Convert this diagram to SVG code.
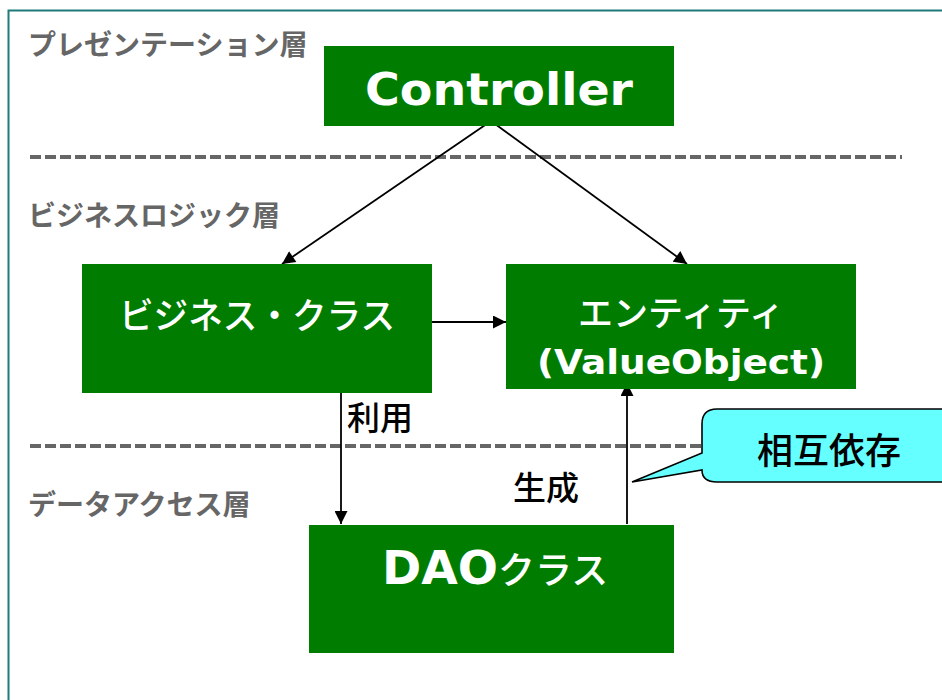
<svg xmlns="http://www.w3.org/2000/svg" width="942" height="700" viewBox="0 0 942 700">
  <defs>
    <style>
      .box { fill: #007d00; }
      .layer { font-family: "Noto Sans CJK JP", "Noto Sans", sans-serif; font-weight: bold; font-size: 28px; fill: #666666; }
      .sep { stroke: #666666; stroke-width: 4; stroke-dasharray: 11 4; fill: none; }
      .jp { font-family: "Noto Sans CJK JP", sans-serif; font-weight: 500; fill: #ffffff; }
      .en { font-family: "DejaVu Sans", Verdana, sans-serif; font-weight: bold; fill: #ffffff; }
      .edge { stroke: #000000; stroke-width: 1.8; fill: none; marker-end: url(#arrow); }
      .lbl { font-family: "Noto Sans CJK JP", sans-serif; font-weight: 500; font-size: 33px; fill: #000000; }
    </style>
    <marker id="arrow" viewBox="0 0 10 10" refX="10" refY="5" markerWidth="14" markerHeight="13" orient="auto" markerUnits="userSpaceOnUse">
      <path d="M0,0 L10,5 L0,10 z" fill="#000000"/>
    </marker>
  </defs>

  <rect width="942" height="700" fill="#ffffff"/>

  <!-- frame -->
  <path d="M8.5,700 L8.5,10.5 L942,10.5" fill="none" stroke="#1f7a7a" stroke-width="2"/>

  <!-- layer labels and separators -->
  <g id="layers">
    <text class="layer" x="28" y="55">プレゼンテーション層</text>
    <text class="layer" x="28" y="226">ビジネスロジック層</text>
    <text class="layer" x="28" y="515">データアクセス層</text>
    <line class="sep" x1="30" y1="157" x2="902" y2="157"/>
    <line class="sep" x1="30" y1="446" x2="702" y2="446"/>
  </g>

  <!-- connectors -->
  <g id="connectors">
    <line class="edge" x1="491" y1="121" x2="282" y2="264"/>
    <line class="edge" x1="491" y1="121" x2="687" y2="264"/>
    <line class="edge" x1="432" y1="322" x2="506" y2="322"/>
    <line class="edge" x1="341" y1="380" x2="341" y2="524"/>
    <line class="edge" x1="627" y1="524" x2="627" y2="383"/>
    <text class="lbl" x="347" y="430">利用</text>
    <text class="lbl" x="513" y="500">生成</text>
  </g>

  <g id="controller">
    <rect class="box" x="324" y="46" width="350" height="80"/>
    <text class="en" x="499" y="105" font-size="44" text-anchor="middle" textLength="268" lengthAdjust="spacingAndGlyphs">Controller</text>
  </g>

  <g id="business">
    <rect class="box" x="82" y="264" width="350" height="129"/>
    <text class="jp" x="257" y="329" font-size="36" text-anchor="middle" textLength="276" lengthAdjust="spacingAndGlyphs">ビジネス・クラス</text>
  </g>

  <g id="entity">
    <rect class="box" x="506" y="264" width="350" height="125"/>
    <text class="jp" x="681" y="326" font-size="35" text-anchor="middle">エンティティ</text>
    <text class="en" x="681" y="374" font-size="34" text-anchor="middle" textLength="288" lengthAdjust="spacingAndGlyphs">(ValueObject)</text>
  </g>

  <g id="dao">
    <rect class="box" x="309" y="525" width="365" height="128"/>
    <text x="382" y="584"><tspan class="en" font-size="46" textLength="116" lengthAdjust="spacingAndGlyphs">DAO</tspan><tspan class="jp" font-size="37">クラス</tspan></text>
  </g>

  <g id="callout">
    <path d="M702,453 L702,424 Q702,409 717,409 L960,409 L960,482 L717,482 Q702,482 702,470 L632,482 Z" fill="#66ffff" stroke="#000000" stroke-width="1.6"/>
    <text x="757" y="464" font-family="Noto Sans CJK JP, sans-serif" font-weight="500" font-size="36" fill="#000000">相互依存</text>
  </g>
</svg>
